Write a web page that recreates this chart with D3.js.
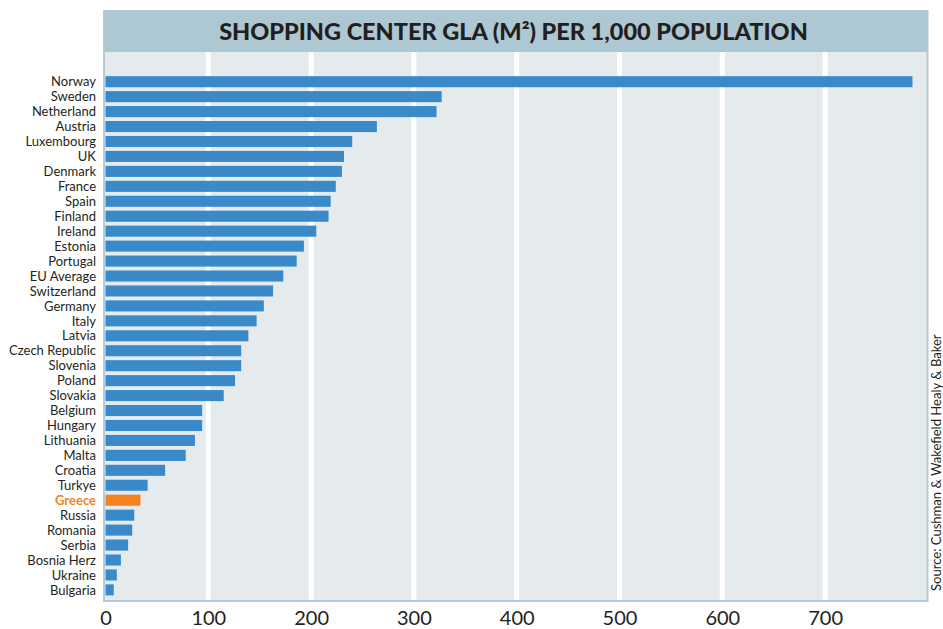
<!DOCTYPE html>
<html>
<head>
<meta charset="utf-8">
<script src="https://cdn.jsdelivr.net/npm/d3@7"></script>
<style>
  html, body { margin: 0; padding: 0; background: #ffffff; }
  svg { display: block; }
</style>
</head>
<body>
<svg id="chart" width="943" height="629"></svg>
<script>
const title = "SHOPPING CENTER GLA (M²) PER 1,000 POPULATION";
const source = "Source: Cushman & Wakefield Healy & Baker";
const categories = ["Norway","Sweden","Netherland","Austria","Luxembourg","UK","Denmark","France","Spain","Finland","Ireland","Estonia","Portugal","EU Average","Switzerland","Germany","Italy","Latvia","Czech Republic","Slovenia","Poland","Slovakia","Belgium","Hungary","Lithuania","Malta","Croatia","Turkye","Greece","Russia","Romania","Serbia","Bosnia Herz","Ukraine","Bulgaria"];
const values = [785,327,322,264,240,232,230,224,219,217,205,193,186,173,163,154,147,139,132,132,126,115,94,94,87,78,58,41,34,28,26,22,15,11,8];
const highlight = ["Greece"];
const tickValues = [0,100,200,300,400,500,600,700];

const svg = d3.select("#chart");
const font = "Lato, 'Open Sans', sans-serif";

const frame = {left: 104, right: 927.5, top: 11, titleBottom: 52, bottom: 601};

// frame / title band
svg.append("rect").attr("x", frame.left).attr("y", frame.top)
  .attr("width", frame.right - frame.left).attr("height", frame.bottom - frame.top)
  .attr("fill", "#e5eaed").attr("stroke", "#b3cbd6").attr("stroke-width", 2);
svg.append("rect").attr("x", frame.left).attr("y", frame.top)
  .attr("width", frame.right - frame.left).attr("height", frame.titleBottom - frame.top)
  .attr("fill", "#adc8d3");

const x = d3.scaleLinear().domain([0, 800]).range([105.5, 105.5 + 800 * 1.028]);
const y = d3.scaleBand().domain(categories).range([68.7, 602.9]).paddingInner(0.26).paddingOuter(0.5);

// gridlines
svg.append("g").selectAll("line").data(tickValues.filter(d => d > 0)).join("line")
  .attr("x1", d => x(d)).attr("x2", d => x(d))
  .attr("y1", frame.titleBottom).attr("y2", frame.bottom - 1)
  .attr("stroke", "#ffffff").attr("stroke-width", 5);

// bars
svg.append("g").selectAll("rect").data(categories).join("rect")
  .attr("x", x(0))
  .attr("y", d => y(d))
  .attr("width", (d, i) => x(values[i]) - x(0))
  .attr("height", y.bandwidth())
  .attr("fill", d => highlight.includes(d) ? "#f5821f" : "#3a8ac9");

// left border line over bars
svg.append("line").attr("x1", frame.left).attr("x2", frame.left)
  .attr("y1", frame.titleBottom).attr("y2", frame.bottom)
  .attr("stroke", "#b3cbd6").attr("stroke-width", 2);

// category labels
svg.append("g").selectAll("text").data(categories).join("text")
  .attr("x", 96)
  .attr("y", d => y(d) + y.bandwidth() / 2)
  .attr("dy", "0.36em")
  .attr("text-anchor", "end")
  .attr("font-family", font)
  .attr("font-size", 13)
  .attr("font-weight", d => highlight.includes(d) ? 700 : 400)
  .attr("fill", d => highlight.includes(d) ? "#f5821f" : "#231f20")
  .text(d => d);

// x axis
const xAxis = svg.append("g").attr("transform", `translate(0, 0)`)
  .call(d3.axisBottom(x).tickValues(tickValues).tickSize(0).tickPadding(0).tickFormat(d3.format("d")));
xAxis.select(".domain").remove();
xAxis.selectAll("text")
  .attr("font-family", font).attr("font-size", 20).attr("fill", "#231f20")
  .attr("y", 625).attr("dy", null);

// title
const t = svg.append("text")
  .attr("x", (219 + 808) / 2).attr("y", 40)
  .attr("text-anchor", "middle")
  .attr("font-family", font).attr("font-weight", 900)
  .attr("font-size", 21).attr("fill", "#231f20")
  .text(title);
const tw = t.node().getComputedTextLength();
if (tw > 0) t.attr("font-size", 21 * Math.min(1.15, Math.max(0.85, 589 / tw)));

// source
const s = svg.append("text")
  .attr("transform", "translate(940.5, 591) rotate(-90)")
  .attr("font-family", font).attr("font-size", 12).attr("fill", "#231f20")
  .text(source);
const sw = s.node().getComputedTextLength();
if (sw > 0) s.attr("font-size", 12 * Math.min(1.3, Math.max(0.9, 257 / sw)));
</script>
</body>
</html>
